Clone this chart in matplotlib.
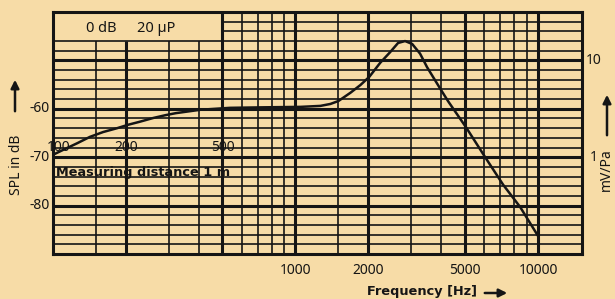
import numpy as np
import matplotlib.pyplot as plt

# frequency response
freq = [100, 110, 126, 142, 161, 184, 204, 227, 259, 292, 321, 405, 537, 726, 1050,
        1267, 1393, 1503, 1684, 1852, 2016, 2236, 2457, 2650, 2832, 3029, 3265, 3490,
        3950, 4270, 5050, 6060, 7190, 8450, 10020]
level = [-69.5, -68.5, -67.1, -65.8, -64.8, -64.0, -63.3, -62.7, -61.9, -61.3, -60.9,
         -60.2, -59.8, -59.7, -59.6, -59.4, -59.0, -58.4, -56.7, -55.1, -53.4, -50.5,
         -48.3, -46.4, -46.0, -46.6, -48.6, -51.4, -55.8, -58.5, -63.8, -70.0, -75.7,
         -80.3, -86.3]

thin_f = [150, 300, 400, 600, 700, 800, 900, 1500, 3000, 4000, 6000, 7000, 8000, 9000]
bold_f = [200, 500, 1000, 2000, 5000, 10000]
thin_db = [-88, -86, -84, -82, -78, -76, -74, -72, -68, -66, -64, -62,
           -58, -56, -54, -52, -48, -46, -44, -42]
bold_db = [-80, -70, -60, -50]
left_labels = [-60, -70, -80]
right_labels = [("10", -50), ("1", -70)]

bg = '#F7DCA7'
ink = '#151515'
W, H = 615, 299

fig = plt.figure(figsize=(W / 100, H / 100), dpi=100, facecolor=bg)
ax = fig.add_axes([53 / W, 1 - 254 / H, (582 - 53) / W, (254 - 12) / H])
ax.set_facecolor(bg)
ax.set_xscale('log')
ax.set_xlim(100, 15200)
ax.set_ylim(-90, -40)
ax.set_xticks([])
ax.set_yticks([])
ax.minorticks_off()
for s in ax.spines.values():
    s.set_linewidth(2.2)
    s.set_color(ink)

# grid, leaving the label box top-left free
for f in thin_f + bold_f:
    top = -46 if f < 500 else -40
    lw = 2.2 if f in bold_f else 1.2
    ax.vlines(f, -90, top, color=ink, lw=lw, zorder=1)
for d in thin_db + bold_db:
    x0 = 500 if d > -46 else 100
    lw = 2.2 if d in bold_db else 1.2
    ax.hlines(d, x0, 15200, color=ink, lw=lw, zorder=1)

ax.plot(freq, level, color=ink, lw=1.8, zorder=3, solid_joinstyle='round')

fs = 10
font = 'Noto Sans'


def px(x, y):
    return x / W, 1 - y / H


fig.text(*px(101, 28), "0 dB", ha='center', va='center', fontsize=10.5, family=font, color=ink)
fig.text(*px(156, 28), "20 \u00b5P", ha='center', va='center', fontsize=10.5, family=font,
         color=ink)
for f in [100, 200, 500]:
    ax.text(f * (1.05 if f == 100 else 1.0), -69.6, str(f), ha='center', va='bottom',
            fontsize=fs, family=font, color=ink, zorder=4)
ax.text(103, -73.2, "Measuring distance 1 m", ha='left', va='center', fontsize=9.3,
        family='DejaVu Sans', weight='bold', color=ink, zorder=4)

for v in left_labels:
    y = 12 + (-40 - v) * 4.84
    fig.text(*px(50, y), str(v), ha='right', va='center', fontsize=fs, family=font, color=ink)
for t, v in right_labels:
    y = 12 + (-40 - v) * 4.84
    fig.text(*px(594, y), t, ha='center', va='center', fontsize=fs, family=font, color=ink)

for f, b in [(1000, False), (2000, True), (5000, True), (10000, False)]:
    x = 53 + np.log10(f / 100) * 242.5
    fig.text(*px(x, 271), str(f), ha='center', va='center', fontsize=fs, family=font,
             weight='bold' if b else 'normal', color=ink)

fig.text(*px(367, 292), "Frequency [Hz]", ha='left', va='center', fontsize=9.3,
         family='DejaVu Sans', weight='bold', color=ink)
ax.annotate('', xy=px(510, 293), xytext=px(482, 293), xycoords='figure fraction',
            textcoords='figure fraction',
            arrowprops=dict(arrowstyle='-|>', color=ink, lw=1.8, mutation_scale=12))

fig.text(*px(17, 165), "SPL in dB", rotation=90, ha='center', va='center', fontsize=fs,
         family=font, color=ink)
ax.annotate('', xy=px(15, 77), xytext=px(15, 114), xycoords='figure fraction',
            textcoords='figure fraction',
            arrowprops=dict(arrowstyle='-|>', color=ink, lw=1.8, mutation_scale=12))

fig.text(*px(606, 170), "mV/Pa", rotation=90, ha='center', va='center', fontsize=fs,
         family=font, color=ink)
ax.annotate('', xy=px(607, 92), xytext=px(607, 138), xycoords='figure fraction',
            textcoords='figure fraction',
            arrowprops=dict(arrowstyle='-|>', color=ink, lw=1.8, mutation_scale=12))

fig.savefig('out.png', dpi=100, facecolor=bg)
